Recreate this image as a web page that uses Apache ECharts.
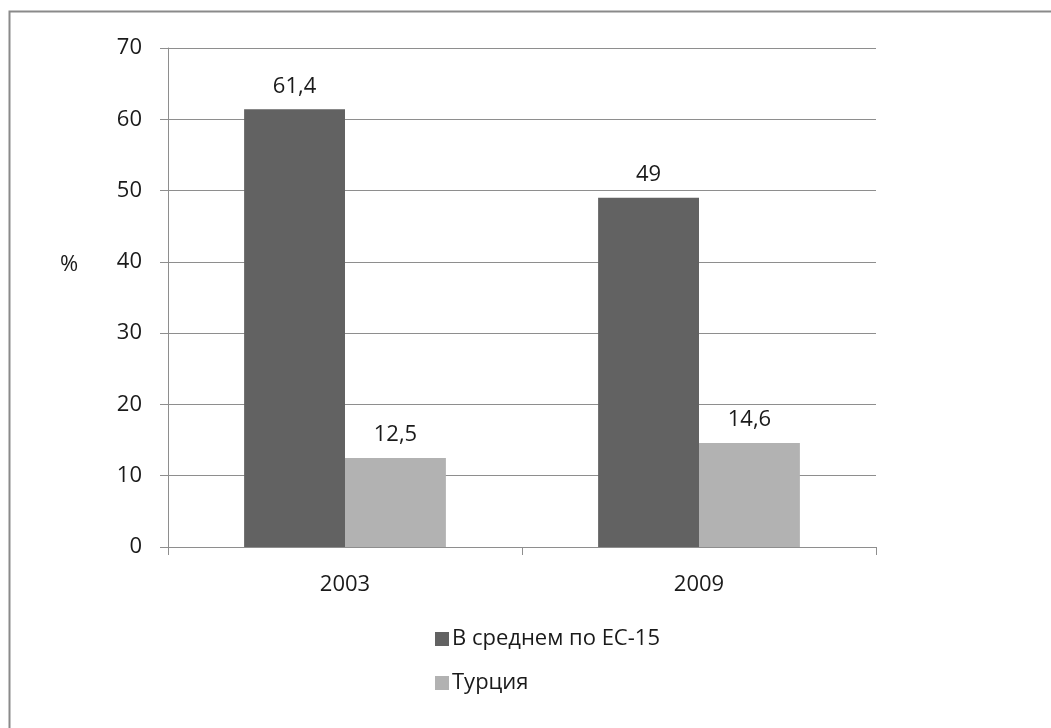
<!DOCTYPE html>
<html>
<head>
<meta charset="utf-8">
<script src="https://cdn.jsdelivr.net/npm/echarts@6/dist/echarts.min.js"></script>
<style>
  html, body { margin: 0; padding: 0; background: #fff; }
  #chart { width: 1051px; height: 728px; }
</style>
</head>
<body>
<div id="chart"></div>
<script>
// Categories and series values
const years = ['2003', '2009'];
const euAverage = [61.4, 49];
const turkey = [12.5, 14.6];
const seriesNames = ['В среднем по ЕС-15', 'Турция'];
const unitLabel = '%';

const FONT = '"Open Sans", sans-serif';
const SIZE = 22;
const TEXT = '#1a1a1a';
const LINE = '#8e8e8e';

const commaLabel = p => String(p.value).replace('.', ',');

const chart = echarts.init(document.getElementById('chart'), null, { renderer: 'canvas' });
chart.setOption({
  backgroundColor: '#fff',
  animation: false,
  textStyle: { fontFamily: FONT },
  graphic: [
    {
      type: 'rect',
      shape: { x: 9.5, y: 11.5, width: 1200, height: 900 },
      style: { fill: 'none', stroke: '#8a8a8a', lineWidth: 2 },
      silent: true
    },
    {
      type: 'text',
      left: 60,
      top: 254,
      style: { text: unitLabel, fontFamily: FONT, fontSize: SIZE, fill: TEXT },
      silent: true
    }
  ],
  grid: { left: 168, top: 48, right: 175, bottom: 181 },
  legend: {
    orient: 'vertical',
    left: 430,
    top: 623,
    itemWidth: 14,
    itemHeight: 14,
    itemGap: 22,
    icon: 'rect',
    textStyle: { fontFamily: FONT, fontSize: SIZE, color: TEXT, padding: [0, 0, 0, -2] },
    data: seriesNames
  },
  xAxis: {
    type: 'category',
    data: years,
    axisLine: { lineStyle: { color: LINE, width: 1 } },
    axisTick: { show: true, length: 8, lineStyle: { color: LINE } },
    axisLabel: { fontFamily: FONT, fontSize: SIZE, color: TEXT, margin: 27 }
  },
  yAxis: {
    type: 'value',
    min: 0,
    max: 70,
    interval: 10,
    axisLine: { show: true, lineStyle: { color: LINE, width: 1 } },
    axisTick: { show: true, length: 8, lineStyle: { color: LINE } },
    axisLabel: { fontFamily: FONT, fontSize: SIZE, color: TEXT, margin: 26 },
    splitLine: { show: true, lineStyle: { color: LINE, width: 1 } }
  },
  series: [
    {
      name: seriesNames[0],
      type: 'bar',
      data: euAverage,
      barGap: '0%',
      barCategoryGap: '43%',
      itemStyle: { color: '#626262' },
      label: { show: true, position: 'top', distance: 12, fontFamily: FONT, fontSize: SIZE, color: TEXT, formatter: commaLabel }
    },
    {
      name: seriesNames[1],
      type: 'bar',
      data: turkey,
      barGap: '0%',
      barCategoryGap: '43%',
      itemStyle: { color: '#b2b2b2' },
      label: { show: true, position: 'top', distance: 12, fontFamily: FONT, fontSize: SIZE, color: TEXT, formatter: commaLabel }
    }
  ]
});
</script>
</body>
</html>
